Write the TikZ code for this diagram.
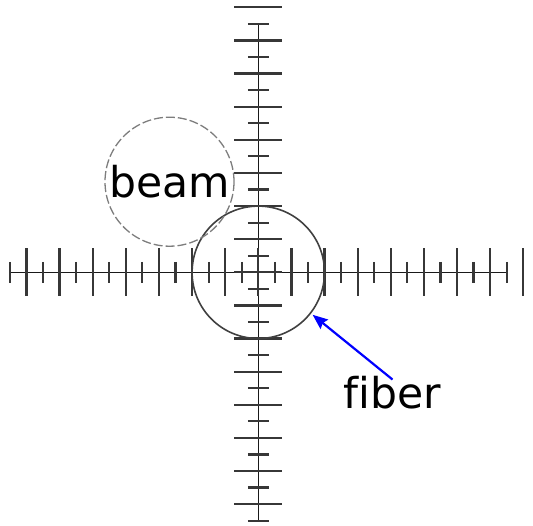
\documentclass[tikz,border=0pt]{standalone}
\usepackage{fontspec}
\setmainfont[Ligatures=NoCommon]{DejaVu Sans}
\usetikzlibrary{arrows.meta}
\definecolor{tickgray}{RGB}{55,55,55}
\definecolor{beamgray}{RGB}{125,125,125}

\begin{document}
\begin{tikzpicture}[x=1pt,y=-1pt,
  every node/.style={font=\fontsize{42.5}{50}\selectfont},
  axis/.style={draw=black!90, line width=1.5pt},
  tick/.style={draw=tickgray, line width=2.2pt},
  fibercirc/.style={
    circle, draw=black!75, line width=1.6pt,
    minimum size=132.4pt, inner sep=0pt
  },
  beamcirc/.style={
    circle, draw=beamgray, line width=1.3pt,
    dash pattern=on 9pt off 3pt,
    minimum size=129pt, inner sep=0pt
  },
  arr/.style={-{Stealth[length=15pt,width=12pt,inset=2pt]}, draw=blue, fill=blue, line width=2.2pt}
]
\useasboundingbox (0,0) rectangle (533,525);
\clip (0,0) rectangle (533,525);

\def\sp{16.56}
\coordinate (O) at (258.3,272.3);

%% Axes
\coordinate (west)  at (258.3-15*\sp, 272.3);
\coordinate (east)  at (258.3+15*\sp, 272.3);
\coordinate (north) at (258.3, 272.3-15*\sp);
\coordinate (south) at (258.3, 272.3+15*\sp);
\draw[axis] (west) -- (east);
\draw[axis] (north) -- (south);

%% Graduations : longues aux pas pairs, courtes aux pas impairs
\foreach \k in {-16,...,16}{
  \pgfmathsetmacro\len{ifthenelse(mod(abs(\k),2)==1,10.5,24)}
  \draw[tick] (258.3+\k*\sp, 272.3-\len) -- (258.3+\k*\sp, 272.3+\len);
  \draw[tick] (258.3-\len, 272.3+\k*\sp) -- (258.3+\len, 272.3+\k*\sp);
}

%% Fibre et faisceau
\node[fibercirc] (fiber) at (O) {};
\node[beamcirc] (beam) at (169.5,181.7) {beam};

%% Etiquette
\node[inner sep=0pt, anchor=base] (fiberlabel) at (392.5,408) {fiber};
\draw[arr, shorten >=2pt] ([yshift=-4pt]fiberlabel.north) -- (fiber.-38);

\end{tikzpicture}
\end{document}
